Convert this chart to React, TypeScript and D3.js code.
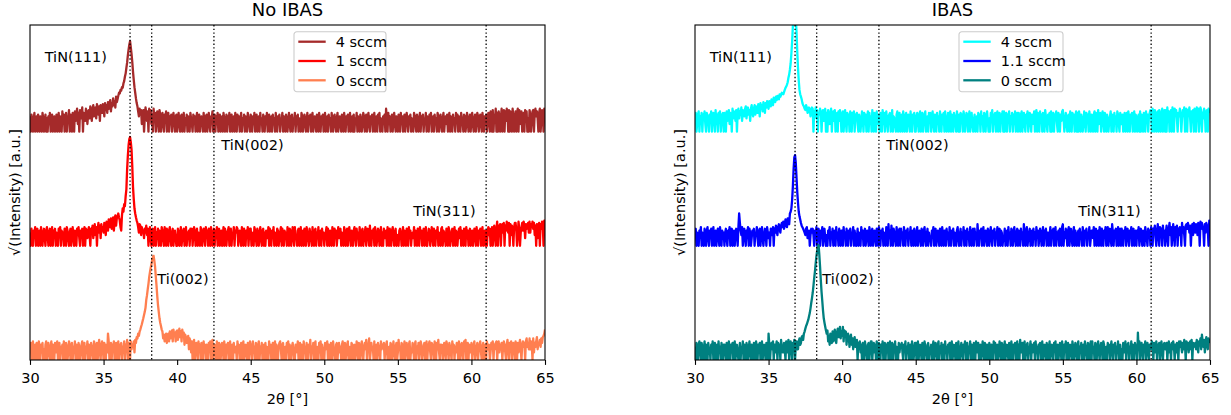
import { useEffect, useRef } from "react";
import * as d3 from "d3";

// XRD scans, raw counts per 0.05° step from 30.00° to 65.00° (701 points, one row per degree)
const THETA_START = 30;
const THETA_STEP = 0.05;

// --- No IBAS ---
const noIbas4 = [
  4, 0, 5, 2, 0, 3, 6, 0, 1, 4, 0, 5, 2, 0, 4, 1, 0, 6, 3, 0,
  2, 5, 0, 3, 0, 4, 1, 6, 0, 2, 5, 0, 3, 4, 0, 1, 5, 0, 2, 6,
  0, 4, 3, 0, 7, 1, 5, 0, 2, 6, 0, 4, 3, 8, 0, 5, 1, 0, 6, 3,
  0, 7, 2, 5, 9, 1, 6, 0, 8, 4, 3, 10, 0, 6, 5, 2, 9, 7, 1, 5,
  8, 3, 11, 6, 2, 9, 12, 4, 7, 10, 3, 13, 8, 5, 11, 2, 12, 9, 6, 13,
  10, 4, 14, 8, 12, 6, 15, 9, 13, 17, 7, 14, 11, 19, 12, 16, 10, 21, 15, 18,
  22, 26, 25, 30, 29, 34, 33, 40, 44, 52, 58, 70, 82, 100, 116, 130, 141, 122, 104, 84,
  62, 46, 34, 26, 19, 14, 11, 7, 4, 9, 5, 8, 1, 6, 8, 0, 3, 10, 6, 2,
  7, 0, 9, 4, 8, 1, 5, 0, 9, 3, 6, 0, 2, 7, 4, 0, 8, 5, 0, 3,
  6, 1, 0, 5, 3, 7, 0, 2, 6, 0, 4, 1, 5, 0, 3, 6, 2, 0, 4, 5,
  0, 3, 6, 1, 0, 4, 5, 0, 2, 6, 0, 3, 1, 5, 0, 4, 2, 0, 6, 3,
  1, 0, 5, 2, 4, 0, 3, 6, 0, 1, 5, 0, 2, 4, 3, 0, 6, 1, 0, 4,
  5, 0, 2, 6, 1, 0, 4, 3, 7, 0, 2, 5, 0, 4, 1, 6, 0, 3, 5, 0,
  2, 4, 0, 6, 3, 0, 1, 5, 0, 4, 2, 6, 0, 3, 5, 0, 1, 4, 0, 6,
  3, 0, 5, 1, 4, 0, 2, 6, 0, 3, 1, 5, 0, 4, 2, 0, 6, 3, 1, 0,
  5, 2, 0, 4, 1, 6, 0, 3, 5, 0, 2, 4, 0, 6, 1, 3, 0, 5, 2, 0,
  4, 1, 6, 0, 3, 5, 0, 2, 4, 0, 5, 1, 3, 0, 6, 2, 0, 4, 1, 5,
  0, 3, 2, 6, 0, 4, 1, 0, 5, 3, 0, 2, 6, 1, 0, 4, 5, 0, 3, 2,
  6, 0, 4, 1, 5, 0, 3, 2, 0, 6, 4, 0, 1, 5, 3, 0, 2, 6, 0, 4,
  1, 5, 0, 3, 6, 0, 2, 4, 1, 0, 5, 3, 0, 6, 2, 0, 4, 1, 5, 0,
  3, 6, 0, 2, 4, 0, 5, 1, 3, 0, 6, 2, 0, 4, 5, 1, 0, 3, 6, 0,
  2, 4, 1, 0, 5, 3, 0, 6, 2, 0, 4, 1, 5, 0, 3, 6, 0, 2, 4, 0,
  5, 0, 3, 1, 6, 0, 4, 2, 0, 5, 3, 0, 1, 6, 4, 0, 2, 5, 0, 3,
  6, 1, 0, 4, 2, 5, 0, 3, 6, 0, 1, 4, 0, 5, 2, 6, 0, 3, 1, 0,
  4, 2, 5, 0, 9, 3, 0, 6, 1, 4, 0, 2, 5, 0, 3, 6, 1, 0, 4, 2,
  0, 5, 3, 0, 6, 1, 4, 0, 2, 5, 0, 3, 6, 2, 0, 4, 1, 5, 0, 3,
  2, 0, 6, 4, 1, 0, 5, 3, 0, 2, 6, 0, 4, 1, 5, 0, 3, 2, 6, 0,
  4, 1, 0, 5, 3, 6, 0, 2, 4, 0, 5, 1, 3, 0, 6, 4, 0, 2, 5, 1,
  0, 3, 6, 0, 2, 4, 1, 5, 0, 3, 6, 0, 4, 2, 0, 5, 1, 3, 0, 6,
  2, 5, 0, 4, 1, 0, 6, 3, 2, 0, 5, 4, 0, 1, 6, 3, 0, 2, 5, 0,
  4, 6, 1, 0, 3, 5, 0, 2, 6, 4, 0, 1, 5, 3, 0, 6, 2, 0, 4, 1,
  5, 0, 3, 6, 2, 0, 7, 4, 0, 8, 0, 5, 3, 9, 0, 6, 0, 7, 4, 0,
  3, 9, 0, 6, 8, 0, 7, 2, 9, 5, 0, 8, 0, 7, 6, 0, 9, 4, 0, 2,
  7, 0, 6, 9, 0, 8, 5, 1, 7, 0, 3, 6, 0, 8, 2, 7, 0, 3, 0, 8,
  5, 0, 2, 7, 8, 0, 6, 9, 4, 7, 3, 0, 6, 9, 0, 2, 8, 7, 0, 9,
  8,
];

const noIbas1 = [
  3, 0, 5, 1, 0, 4, 2, 6, 0, 3, 5, 0, 1, 4, 0, 6, 2, 0, 3, 5,
  1, 0, 4, 6, 2, 0, 3, 5, 0, 1, 6, 0, 4, 2, 5, 0, 3, 1, 0, 5,
  2, 6, 0, 4, 1, 3, 0, 5, 2, 0, 6, 4, 1, 0, 3, 5, 0, 2, 6, 1,
  0, 4, 3, 0, 5, 2, 6, 1, 0, 4, 3, 5, 0, 2, 6, 0, 5, 3, 1, 4,
  6, 2, 0, 5, 3, 7, 1, 4, 8, 2, 6, 0, 5, 9, 3, 7, 1, 8, 4, 6,
  3, 9, 5, 2, 10, 7, 4, 12, 8, 6, 13, 5, 9, 14, 4, 11, 16, 7, 13, 15,
  18, 14, 11, 6, 4, 16, 24, 20, 30, 27, 42, 55, 100, 140, 175, 196, 204, 185, 160, 110,
  60, 38, 24, 18, 14, 11, 9, 6, 3, 8, 7, 2, 6, 4, 4, 1, 5, 3, 7, 2,
  5, 0, 3, 6, 1, 0, 4, 5, 0, 2, 6, 0, 3, 1, 5, 0, 4, 2, 0, 6,
  4, 1, 0, 6, 3, 0, 5, 2, 0, 4, 6, 1, 0, 3, 5, 0, 2, 4, 1, 0,
  0, 5, 2, 0, 3, 6, 0, 1, 4, 5, 0, 2, 6, 0, 3, 1, 4, 0, 5, 3,
  5, 0, 2, 6, 4, 0, 1, 5, 0, 3, 2, 0, 6, 4, 0, 1, 5, 3, 0, 6,
  2, 4, 0, 5, 1, 0, 6, 3, 0, 2, 5, 0, 4, 1, 6, 0, 3, 5, 0, 2,
  4, 0, 1, 6, 0, 5, 3, 0, 2, 4, 6, 0, 1, 5, 0, 3, 2, 6, 0, 4,
  3, 6, 5, 0, 2, 4, 1, 0, 6, 3, 0, 5, 2, 0, 4, 1, 6, 0, 3, 5,
  5, 0, 2, 3, 0, 6, 4, 1, 0, 5, 3, 0, 2, 6, 1, 0, 4, 5, 0, 3,
  0, 4, 3, 1, 6, 0, 5, 2, 0, 4, 1, 6, 0, 3, 2, 0, 5, 4, 0, 1,
  3, 6, 0, 5, 2, 0, 4, 1, 3, 0, 6, 2, 0, 5, 4, 0, 1, 6, 3, 0,
  6, 1, 2, 0, 4, 5, 0, 3, 6, 0, 1, 4, 0, 5, 2, 0, 6, 3, 1, 0,
  5, 3, 1, 0, 6, 2, 0, 4, 5, 0, 3, 1, 6, 0, 2, 4, 0, 5, 1, 3,
  0, 2, 3, 6, 0, 5, 1, 0, 4, 2, 0, 6, 3, 0, 5, 1, 4, 0, 2, 6,
  1, 4, 5, 0, 3, 2, 0, 6, 4, 0, 1, 5, 0, 3, 6, 2, 0, 4, 1, 0,
  4, 6, 2, 0, 5, 1, 3, 0, 6, 2, 0, 4, 5, 0, 1, 3, 6, 0, 2, 5,
  3, 0, 7, 1, 0, 4, 2, 5, 0, 6, 3, 0, 1, 5, 4, 0, 2, 6, 0, 3,
  0, 5, 1, 2, 4, 0, 6, 3, 0, 5, 1, 0, 4, 6, 2, 0, 3, 5, 0, 1,
  2, 0, 4, 5, 3, 0, 1, 6, 0, 4, 2, 0, 5, 3, 0, 6, 1, 4, 0, 2,
  3, 1, 6, 0, 4, 2, 0, 5, 3, 0, 6, 1, 4, 0, 2, 5, 0, 3, 6, 0,
  0, 2, 5, 4, 0, 1, 6, 3, 0, 5, 2, 0, 4, 1, 6, 0, 3, 2, 0, 5,
  6, 0, 4, 3, 1, 0, 5, 2, 0, 6, 4, 0, 1, 3, 5, 0, 2, 6, 0, 4,
  3, 0, 2, 5, 1, 6, 0, 4, 3, 0, 5, 2, 0, 6, 1, 4, 0, 3, 5, 0,
  2, 4, 0, 1, 5, 3, 0, 6, 2, 0, 4, 1, 5, 0, 3, 6, 0, 2, 4, 0,
  4, 0, 3, 6, 2, 5, 0, 1, 6, 0, 3, 7, 2, 0, 5, 10, 0, 7, 3, 8,
  0, 5, 8, 3, 9, 0, 7, 4, 10, 6, 3, 9, 0, 8, 2, 7, 4, 0, 6, 9,
  9, 4, 0, 2, 10, 5, 0, 3, 6, 9, 4, 10, 7, 1, 8, 5, 6, 9, 3, 10,
  3, 8, 6, 10, 5, 9, 2, 7, 0, 8, 1, 6, 9, 0, 8, 5, 10, 7, 0, 11,
  7,
];

const noIbas0 = [
  2, 5, 0, 3, 6, 0, 1, 4, 0, 5, 2, 0, 6, 3, 0, 4, 1, 5, 0, 2,
  0, 4, 6, 0, 2, 5, 1, 0, 3, 6, 0, 4, 2, 0, 5, 1, 3, 6, 0, 2,
  5, 0, 3, 1, 4, 0, 6, 2, 0, 5, 3, 0, 1, 6, 4, 0, 2, 5, 0, 3,
  1, 6, 0, 4, 2, 0, 5, 3, 0, 1, 4, 6, 0, 2, 5, 0, 3, 1, 6, 0,
  4, 2, 0, 5, 3, 1, 0, 6, 4, 0, 2, 5, 0, 3, 7, 1, 0, 4, 6, 2,
  0, 5, 3, 0, 4, 1, 12, 6, 0, 2, 5, 0, 4, 3, 6, 0, 1, 5, 0, 3,
  6, 0, 2, 4, 5, 0, 3, 1, 6, 0, 4, 2, 7, 0, 5, 3, 0, 6, 2, 4,
  3, 6, 1, 7, 5, 9, 8, 12, 10, 14, 16, 19, 22, 26, 30, 35, 40, 47, 62, 72,
  86, 100, 118, 132, 146, 158, 172, 182, 187, 170, 150, 120, 95, 70, 52, 40, 30, 24, 20, 16,
  14, 8, 11, 6, 9, 12, 5, 10, 12, 6, 14, 8, 9, 15, 6, 16, 10, 13, 6, 14,
  15, 7, 12, 17, 9, 14, 6, 16, 10, 13, 4, 11, 9, 5, 7, 10, 2, 8, 6, 1,
  6, 0, 4, 7, 0, 3, 5, 1, 0, 6, 2, 4, 0, 5, 3, 0, 6, 1, 4, 0,
  4, 1, 0, 5, 2, 6, 0, 3, 7, 0, 1, 4, 3, 0, 6, 2, 0, 5, 4, 0,
  1, 5, 3, 0, 6, 2, 0, 4, 1, 5, 0, 3, 6, 0, 2, 4, 0, 5, 1, 3,
  3, 0, 6, 1, 4, 0, 2, 5, 0, 3, 6, 0, 1, 4, 2, 0, 5, 3, 0, 6,
  4, 2, 0, 6, 1, 3, 0, 5, 2, 0, 4, 6, 0, 3, 1, 5, 0, 2, 4, 0,
  5, 0, 3, 2, 0, 6, 1, 4, 0, 3, 5, 0, 2, 6, 0, 4, 1, 0, 3, 5,
  6, 2, 0, 4, 5, 0, 1, 3, 0, 5, 2, 6, 0, 4, 1, 0, 3, 5, 2, 0,
  0, 4, 1, 2, 6, 0, 3, 5, 0, 4, 1, 0, 6, 2, 3, 0, 5, 1, 0, 4,
  2, 7, 0, 3, 1, 5, 0, 4, 6, 0, 2, 3, 0, 5, 1, 6, 0, 4, 2, 0,
  0, 5, 2, 3, 6, 0, 4, 1, 0, 5, 3, 0, 6, 2, 1, 0, 4, 5, 0, 3,
  5, 1, 3, 0, 4, 6, 0, 2, 5, 0, 1, 4, 6, 0, 3, 2, 0, 5, 4, 0,
  2, 4, 0, 1, 6, 3, 0, 5, 2, 0, 4, 6, 1, 0, 3, 5, 2, 7, 0, 3,
  4, 8, 0, 1, 5, 2, 3, 0, 6, 0, 2, 4, 0, 5, 3, 1, 0, 6, 2, 4,
  3, 5, 0, 2, 4, 6, 0, 1, 3, 0, 5, 4, 0, 2, 6, 1, 0, 3, 5, 0,
  1, 7, 2, 3, 0, 5, 4, 0, 2, 6, 0, 3, 5, 1, 0, 4, 6, 0, 2, 1,
  5, 2, 0, 4, 6, 0, 3, 1, 5, 0, 2, 6, 4, 0, 1, 3, 5, 0, 2, 6,
  0, 3, 4, 6, 1, 0, 5, 4, 2, 0, 6, 3, 0, 5, 2, 7, 1, 0, 4, 2,
  4, 0, 1, 5, 3, 0, 6, 4, 2, 0, 5, 3, 1, 0, 6, 2, 4, 0, 3, 1,
  5, 3, 0, 6, 2, 0, 4, 5, 1, 0, 6, 3, 7, 0, 2, 5, 0, 4, 3, 1,
  5, 0, 2, 4, 6, 0, 1, 3, 5, 0, 2, 4, 6, 1, 0, 3, 5, 0, 2, 4,
  0, 6, 3, 2, 4, 0, 1, 5, 3, 6, 0, 4, 2, 5, 6, 0, 3, 6, 1, 4,
  2, 5, 0, 3, 6, 4, 1, 0, 4, 7, 2, 0, 5, 3, 6, 0, 2, 5, 4, 0,
  6, 3, 0, 5, 1, 4, 7, 2, 0, 4, 6, 3, 5, 0, 6, 8, 3, 5, 2, 8,
  2, 6, 4, 0, 8, 1, 5, 3, 6, 9, 2, 5, 4, 7, 3, 8, 5, 9, 10, 12,
  16,
];

// --- IBAS ---
const ibas4 = [
  3, 6, 0, 1, 5, 7, 0, 4, 2, 6, 0, 5, 3, 7, 1, 0, 6, 4, 2, 0,
  5, 2, 7, 0, 3, 6, 4, 0, 8, 1, 5, 0, 6, 3, 7, 0, 2, 5, 6, 0,
  6, 3, 0, 7, 2, 5, 8, 1, 6, 4, 0, 9, 3, 7, 5, 2, 8, 0, 6, 9,
  3, 7, 5, 10, 2, 8, 6, 4, 9, 11, 3, 7, 10, 5, 8, 2, 9, 12, 6, 4,
  9, 12, 5, 11, 8, 6, 13, 10, 4, 14, 9, 12, 7, 15, 11, 6, 14, 10, 16, 13,
  9, 16, 13, 11, 18, 14, 12, 20, 16, 15, 21, 17, 22, 19, 18, 24, 21, 23, 26, 25,
  24, 27, 30, 33, 35, 38, 42, 50, 56, 66, 80, 105, 140, 190, 240, 275, 290, 225, 170, 110,
  70, 45, 30, 24, 21, 18, 14, 12, 11, 9, 8, 12, 10, 6, 7, 10, 9, 4, 8, 10,
  9, 0, 7, 5, 10, 3, 8, 0, 6, 5, 9, 7, 0, 4, 8, 2, 7, 9, 0, 6,
  0, 8, 3, 1, 6, 9, 0, 4, 7, 2, 8, 0, 5, 6, 0, 7, 2, 8, 5, 0,
  5, 7, 0, 3, 8, 2, 0, 6, 1, 5, 0, 7, 4, 0, 6, 2, 7, 0, 5, 3,
  6, 1, 0, 5, 3, 0, 2, 7, 4, 0, 6, 1, 5, 0, 3, 7, 0, 6, 2, 4,
  0, 8, 2, 0, 6, 4, 0, 7, 1, 5, 4, 0, 6, 2, 0, 8, 1, 6, 0, 3,
  7, 2, 0, 4, 5, 6, 0, 1, 8, 0, 4, 3, 1, 0, 5, 7, 0, 4, 6, 0,
  2, 5, 0, 7, 3, 0, 4, 6, 0, 2, 5, 3, 0, 7, 1, 0, 5, 3, 6, 0,
  0, 4, 6, 2, 0, 5, 7, 0, 3, 6, 0, 2, 5, 7, 0, 3, 4, 0, 6, 5,
  6, 0, 4, 7, 1, 0, 5, 3, 0, 6, 2, 4, 0, 7, 3, 0, 5, 1, 6, 0,
  7, 1, 0, 3, 6, 0, 4, 7, 0, 5, 2, 0, 6, 4, 1, 0, 7, 3, 0, 5,
  0, 6, 3, 5, 0, 7, 4, 0, 2, 6, 5, 0, 3, 7, 0, 4, 6, 1, 0, 2,
  5, 0, 2, 4, 0, 6, 3, 5, 0, 7, 1, 4, 0, 6, 3, 0, 5, 7, 2, 0,
  3, 0, 6, 4, 8, 0, 5, 1, 6, 0, 4, 7, 0, 2, 6, 0, 5, 3, 7, 0,
  7, 0, 4, 6, 0, 5, 3, 7, 0, 4, 2, 6, 0, 5, 1, 7, 0, 3, 6, 0,
  6, 2, 0, 5, 7, 0, 4, 6, 1, 0, 5, 3, 7, 0, 2, 6, 4, 0, 5, 1,
  3, 7, 0, 5, 8, 0, 6, 4, 0, 7, 2, 5, 0, 6, 3, 0, 8, 4, 1, 0,
  5, 1, 6, 0, 7, 0, 4, 6, 0, 5, 3, 7, 1, 0, 6, 4, 0, 5, 2, 7,
  8, 3, 0, 1, 6, 4, 0, 2, 5, 0, 7, 3, 0, 6, 2, 5, 0, 4, 7, 0,
  6, 0, 7, 4, 0, 5, 3, 0, 1, 7, 4, 0, 6, 2, 5, 0, 7, 3, 0, 5,
  4, 0, 5, 7, 0, 6, 3, 0, 8, 1, 5, 6, 0, 4, 7, 2, 0, 6, 3, 0,
  5, 3, 0, 2, 4, 7, 0, 5, 3, 0, 6, 2, 4, 0, 7, 5, 1, 0, 6, 3,
  1, 5, 0, 3, 6, 0, 4, 6, 0, 7, 3, 0, 5, 2, 6, 0, 4, 7, 0, 5,
  4, 0, 1, 5, 0, 7, 0, 5, 4, 0, 6, 3, 0, 7, 2, 5, 0, 4, 6, 8,
  7, 0, 9, 4, 0, 8, 6, 0, 2, 7, 0, 8, 3, 0, 6, 9, 0, 4, 8, 0,
  8, 0, 10, 3, 7, 0, 4, 8, 0, 10, 2, 0, 9, 5, 8, 3, 0, 6, 4, 9,
  5, 0, 3, 8, 6, 10, 0, 7, 9, 0, 8, 6, 10, 3, 0, 7, 5, 8, 0, 9,
  8, 0, 10, 3, 9, 0, 4, 10, 8, 0, 6, 3, 9, 7, 0, 5, 8, 0, 9, 7,
  6,
];

const ibas11 = [
  2, 5, 0, 3, 1, 0, 4, 2, 6, 0, 3, 1, 0, 5, 2, 0, 4, 6, 1, 0,
  4, 1, 5, 0, 3, 6, 0, 2, 4, 0, 1, 5, 3, 0, 6, 2, 0, 4, 1, 3,
  0, 3, 5, 1, 0, 4, 2, 6, 0, 3, 5, 0, 1, 4, 0, 2, 5, 3, 0, 6,
  18, 9, 4, 2, 6, 0, 3, 5, 1, 0, 4, 2, 6, 0, 5, 3, 0, 1, 4, 2,
  5, 0, 3, 2, 6, 1, 0, 4, 5, 0, 3, 6, 1, 0, 2, 5, 4, 0, 6, 3,
  1, 3, 0, 5, 4, 2, 6, 0, 5, 3, 7, 4, 2, 6, 8, 5, 3, 7, 9, 6,
  10, 5, 7, 12, 9, 6, 13, 10, 8, 18, 20, 24, 36, 60, 100, 135, 142, 118, 80, 50,
  32, 20, 15, 12, 9, 7, 6, 5, 4, 3, 2, 5, 6, 1, 3, 4, 0, 2, 5, 3,
  5, 2, 0, 4, 1, 6, 0, 3, 5, 1, 0, 4, 2, 6, 0, 3, 5, 1, 0, 2,
  0, 4, 2, 6, 0, 3, 1, 5, 0, 2, 4, 0, 6, 1, 3, 0, 5, 2, 0, 4,
  4, 0, 6, 1, 3, 0, 5, 2, 0, 4, 1, 5, 0, 3, 2, 6, 0, 4, 1, 0,
  1, 5, 0, 3, 2, 0, 6, 1, 4, 0, 3, 5, 0, 2, 4, 1, 0, 6, 3, 0,
  3, 5, 0, 2, 4, 1, 0, 5, 3, 0, 6, 2, 0, 4, 1, 5, 0, 3, 2, 0,
  6, 2, 0, 8, 1, 4, 0, 7, 2, 0, 5, 3, 1, 0, 6, 2, 0, 4, 5, 0,
  5, 1, 3, 0, 6, 2, 0, 4, 1, 5, 0, 3, 2, 6, 0, 1, 4, 0, 5, 2,
  0, 3, 6, 0, 2, 4, 1, 0, 5, 3, 0, 4, 6, 1, 0, 2, 5, 0, 3, 1,
  1, 0, 4, 2, 6, 0, 3, 5, 0, 2, 4, 1, 0, 5, 3, 0, 6, 2, 0, 4,
  4, 0, 5, 1, 3, 0, 6, 2, 0, 4, 1, 5, 0, 3, 2, 0, 4, 6, 1, 0,
  2, 5, 0, 3, 1, 6, 0, 4, 2, 0, 5, 1, 3, 0, 6, 2, 0, 4, 5, 0,
  5, 1, 3, 0, 8, 2, 0, 4, 1, 5, 0, 3, 6, 0, 2, 4, 1, 0, 5, 3,
  0, 3, 6, 1, 0, 4, 2, 5, 0, 3, 1, 6, 0, 2, 5, 0, 4, 3, 0, 1,
  1, 5, 0, 2, 4, 0, 6, 1, 3, 0, 5, 2, 0, 4, 6, 1, 0, 3, 5, 0,
  4, 2, 0, 5, 1, 3, 0, 8, 2, 0, 4, 6, 0, 1, 3, 5, 0, 2, 4, 0,
  5, 1, 3, 0, 6, 2, 4, 0, 1, 5, 3, 0, 2, 6, 0, 4, 1, 5, 0, 3,
  3, 0, 2, 6, 0, 4, 1, 5, 0, 2, 6, 0, 3, 1, 4, 0, 5, 2, 0, 6,
  8, 0, 3, 1, 5, 2, 0, 4, 6, 0, 2, 5, 1, 0, 3, 6, 0, 4, 2, 0,
  2, 4, 0, 5, 1, 3, 0, 6, 2, 0, 4, 1, 5, 0, 3, 2, 6, 0, 1, 4,
  4, 1, 6, 0, 3, 5, 0, 2, 4, 0, 6, 3, 0, 5, 1, 0, 4, 2, 6, 0,
  3, 6, 0, 2, 5, 1, 0, 8, 3, 0, 4, 2, 5, 0, 1, 6, 0, 3, 5, 0,
  5, 2, 0, 4, 1, 6, 0, 3, 5, 1, 0, 4, 2, 6, 0, 3, 5, 0, 2, 4,
  0, 4, 2, 6, 0, 3, 5, 1, 0, 4, 2, 0, 6, 3, 1, 0, 5, 2, 4, 0,
  6, 2, 0, 5, 3, 7, 1, 0, 4, 8, 2, 0, 6, 3, 5, 0, 7, 2, 4, 0,
  3, 7, 1, 0, 5, 9, 2, 6, 0, 4, 8, 2, 0, 6, 3, 7, 0, 5, 2, 6,
  5, 0, 9, 3, 6, 2, 0, 7, 8, 5, 9, 6, 3, 7, 0, 5, 8, 2, 9, 6,
  3, 8, 6, 2, 9, 7, 0, 10, 5, 9, 6, 4, 0, 8, 3, 9, 7, 5, 0, 11,
  4,
];

const ibas0 = [
  3, 0, 5, 2, 0, 4, 6, 1, 0, 5, 3, 0, 2, 6, 0, 4, 1, 0, 5, 2,
  2, 0, 4, 1, 6, 0, 3, 5, 0, 2, 4, 0, 6, 1, 3, 0, 5, 2, 0, 4,
  4, 1, 0, 5, 3, 0, 6, 2, 0, 4, 1, 5, 0, 3, 6, 0, 2, 4, 1, 0,
  1, 5, 0, 3, 2, 6, 0, 4, 1, 0, 5, 3, 0, 2, 6, 1, 0, 4, 3, 0,
  5, 2, 0, 6, 3, 0, 4, 1, 5, 0, 2, 6, 0, 3, 4, 1, 0, 5, 2, 0,
  12, 4, 0, 3, 5, 2, 6, 0, 4, 1, 3, 6, 0, 5, 2, 4, 0, 7, 3, 1,
  1, 5, 2, 0, 6, 3, 1, 7, 0, 4, 6, 2, 0, 5, 3, 7, 0, 4, 6, 2,
  2, 6, 8, 4, 5, 9, 10, 7, 12, 14, 17, 20, 22, 25, 28, 33, 38, 46, 56, 66,
  78, 95, 115, 135, 160, 185, 205, 222, 228, 190, 150, 110, 80, 60, 42, 30, 24, 19, 15, 12,
  15, 6, 10, 4, 12, 8, 5, 14, 6, 11, 16, 7, 5, 13, 17, 9, 12, 19, 8, 14,
  10, 19, 6, 15, 12, 14, 4, 10, 12, 9, 3, 8, 11, 4, 8, 2, 6, 9, 3, 5,
  7, 0, 5, 3, 6, 1, 4, 0, 5, 2, 0, 6, 3, 1, 0, 4, 5, 0, 2, 6,
  6, 0, 3, 5, 1, 4, 0, 6, 2, 0, 5, 3, 0, 4, 1, 6, 0, 2, 5, 0,
  4, 1, 5, 0, 3, 6, 0, 2, 5, 0, 4, 1, 6, 0, 3, 2, 0, 5, 1, 4,
  3, 5, 1, 0, 4, 2, 6, 0, 3, 1, 5, 0, 2, 4, 0, 6, 3, 0, 1, 5,
  5, 0, 2, 6, 0, 3, 4, 1, 0, 5, 2, 0, 6, 3, 1, 0, 4, 5, 0, 2,
  2, 4, 0, 3, 6, 0, 1, 5, 2, 0, 4, 6, 0, 3, 1, 5, 0, 2, 4, 0,
  6, 1, 3, 0, 4, 2, 5, 0, 3, 6, 0, 1, 4, 2, 0, 5, 3, 0, 6, 1,
  0, 2, 5, 1, 0, 4, 3, 6, 0, 2, 5, 0, 3, 1, 6, 0, 4, 2, 0, 5,
  4, 0, 6, 2, 1, 5, 0, 3, 4, 0, 2, 6, 1, 0, 5, 3, 0, 4, 2, 0,
  5, 2, 0, 4, 3, 0, 6, 1, 5, 0, 3, 4, 0, 2, 6, 1, 0, 5, 3, 0,
  3, 6, 0, 2, 4, 1, 0, 5, 3, 0, 6, 2, 0, 4, 1, 5, 0, 3, 6, 0,
  4, 0, 7, 1, 3, 5, 0, 2, 6, 0, 1, 4, 5, 0, 3, 2, 6, 0, 4, 1,
  2, 5, 0, 6, 1, 3, 0, 4, 2, 5, 0, 3, 6, 0, 1, 4, 2, 0, 5, 3,
  0, 3, 6, 0, 2, 4, 1, 0, 5, 3, 6, 0, 2, 4, 0, 1, 5, 3, 0, 6,
  1, 0, 4, 2, 6, 0, 3, 5, 0, 2, 4, 1, 0, 6, 3, 0, 2, 5, 1, 0,
  4, 6, 0, 3, 1, 5, 0, 2, 4, 0, 6, 3, 1, 0, 5, 2, 0, 4, 6, 0,
  6, 1, 3, 0, 5, 2, 0, 4, 6, 1, 0, 3, 5, 2, 0, 6, 4, 0, 1, 3,
  0, 5, 2, 4, 0, 3, 6, 1, 0, 4, 2, 5, 0, 3, 1, 6, 0, 2, 4, 0,
  2, 0, 5, 3, 1, 6, 0, 4, 2, 5, 0, 3, 1, 6, 0, 4, 2, 0, 5, 3,
  3, 0, 13, 2, 6, 0, 3, 5, 1, 0, 4, 2, 6, 0, 3, 5, 1, 0, 4, 2,
  4, 6, 2, 0, 5, 3, 1, 6, 0, 4, 2, 5, 0, 3, 6, 1, 0, 4, 5, 2,
  2, 5, 0, 3, 6, 1, 4, 0, 5, 2, 6, 3, 0, 4, 1, 5, 2, 0, 6, 3,
  6, 3, 1, 5, 2, 7, 4, 0, 6, 3, 5, 1, 4, 6, 2, 7, 0, 5, 3, 4,
  5, 2, 7, 3, 1, 6, 4, 8, 2, 11, 6, 3, 7, 1, 5, 9, 4, 2, 8, 6,
  5,
];

// reference peak positions (2θ)
const refLines = [36.8, 38.27, 42.5, 61.0];

// peak labels: text, 2θ, height in plot units
const peakLabels = [
  { text: "TiN(111)", x: 31.0, y: 39.1 },
  { text: "TiN(002)", x: 43.0, y: 27.6 },
  { text: "TiN(311)", x: 56.05, y: 18.9 },
  { text: "Ti(002)", x: 38.65, y: 10.0 },
];

const xTicks = [30, 35, 40, 45, 50, 55, 60, 65];

const panels = [
  {
    title: "No IBAS",
    left: 30,
    legendWidth: 92,
    series: [
      { label: "4 sccm", color: "#a52a2a", counts: noIbas4, offset: 30 },
      { label: "1 sccm", color: "#ff0000", counts: noIbas1, offset: 15 },
      { label: "0 sccm", color: "#ff7f50", counts: noIbas0, offset: 0 },
    ],
  },
  {
    title: "IBAS",
    left: 695,
    legendWidth: 104,
    series: [
      { label: "4 sccm", color: "#00ffff", counts: ibas4, offset: 30 },
      { label: "1.1 sccm", color: "#0000ff", counts: ibas11, offset: 15 },
      { label: "0 sccm", color: "#008080", counts: ibas0, offset: 0 },
    ],
  },
];

const WIDTH = 1231;
const HEIGHT = 415;
const PLOT_W = 515;
const TOP = 25;
const BOTTOM = 360;
const LINE_W = 2.3;
const FONT = "DejaVu Sans, sans-serif";

const App = () => {
  const ref = useRef(null);

  useEffect(() => {
    if (!ref.current) return;
    const svg = d3.select(ref.current);
    svg.selectAll("*").remove();

    svg.append("rect").attr("width", WIDTH).attr("height", HEIGHT).attr("fill", "#fff");

    panels.forEach((panel, pi) => {
      const x = d3.scaleLinear().domain([30, 65]).range([panel.left, panel.left + PLOT_W]);
      const y = d3.scaleLinear().domain([0, 44]).range([BOTTOM, TOP]);
      const g = svg.append("g");

      const clipId = `clip-${pi}`;
      g.append("clipPath")
        .attr("id", clipId)
        .append("rect")
        .attr("x", panel.left)
        .attr("y", TOP)
        .attr("width", PLOT_W)
        .attr("height", BOTTOM - TOP);

      // scans, plotted as sqrt(counts) + offset
      panel.series.forEach((s) => {
        const line = d3
          .line<number>()
          .x((_, i) => x(THETA_START + i * THETA_STEP))
          .y((d) => y(Math.sqrt(d) + s.offset));
        g.append("path")
          .datum(s.counts)
          .attr("d", line)
          .attr("fill", "none")
          .attr("stroke", s.color)
          .attr("stroke-width", LINE_W)
          .attr("stroke-linejoin", "round")
          .attr("clip-path", `url(#${clipId})`);
      });

      // reference lines
      refLines.forEach((r) => {
        g.append("line")
          .attr("x1", x(r))
          .attr("x2", x(r))
          .attr("y1", TOP)
          .attr("y2", BOTTOM)
          .attr("stroke", "#000")
          .attr("stroke-width", 1.3)
          .attr("stroke-dasharray", "1.4,2.3");
      });

      // peak labels
      peakLabels.forEach((p) => {
        g.append("text")
          .attr("x", x(p.x))
          .attr("y", y(p.y))
          .style("font-family", FONT)
          .style("font-size", "14.5px")
          .style("fill", "#000")
          .text(p.text);
      });

      // frame
      g.append("rect")
        .attr("x", panel.left)
        .attr("y", TOP)
        .attr("width", PLOT_W)
        .attr("height", BOTTOM - TOP)
        .attr("fill", "none")
        .attr("stroke", "#000")
        .attr("stroke-width", 1.1);

      // x axis
      const xAxis = g
        .append("g")
        .attr("transform", `translate(0,${BOTTOM})`)
        .call(d3.axisBottom(x).tickValues(xTicks).tickSize(4.9).tickPadding(7.8).tickFormat(d3.format("d")));
      xAxis.select(".domain").remove();
      xAxis.selectAll("line").attr("stroke", "#000").attr("stroke-width", 1.1);
      xAxis
        .selectAll("text")
        .style("font-family", FONT)
        .style("font-size", "14.5px")
        .attr("fill", "#000");

      // axis labels + title
      g.append("text")
        .attr("x", panel.left + PLOT_W / 2)
        .attr("y", 404)
        .attr("text-anchor", "middle")
        .style("font-family", FONT)
        .style("font-size", "14.5px")
        .text("2θ [°]");

      g.append("text")
        .attr("transform", `translate(${panel.left - 10.5},${(TOP + BOTTOM) / 2}) rotate(-90)`)
        .attr("text-anchor", "middle")
        .style("font-family", FONT)
        .style("font-size", "14.5px")
        .text("√(Intensity) [a.u.]");

      g.append("text")
        .attr("x", panel.left + PLOT_W / 2)
        .attr("y", 16)
        .attr("text-anchor", "middle")
        .style("font-family", FONT)
        .style("font-size", "18px")
        .text(panel.title);

      // legend
      const lx = panel.left + 264;
      const leg = g.append("g").attr("transform", `translate(${lx},31.7)`);
      leg.append("rect")
        .attr("width", panel.legendWidth)
        .attr("height", 60)
        .attr("rx", 2.8)
        .attr("fill", "#fff")
        .attr("fill-opacity", 0.8)
        .attr("stroke", "#cccccc")
        .attr("stroke-width", 1.1);
      panel.series.forEach((s, i) => {
        const cy = 10 + i * 19.3;
        leg.append("line")
          .attr("x1", 4.3)
          .attr("x2", 31.7)
          .attr("y1", cy)
          .attr("y2", cy)
          .attr("stroke", s.color)
          .attr("stroke-width", LINE_W);
        leg.append("text")
          .attr("x", 41.7)
          .attr("y", cy)
          .attr("dy", "0.36em")
          .style("font-family", FONT)
          .style("font-size", "14.5px")
          .text(s.label);
      });
    });
  }, []);

  return (
    <svg
      ref={ref}
      width={WIDTH}
      height={HEIGHT}
      style={{ position: "absolute", left: 0, top: 0 }}
    />
  );
};

export default App;
